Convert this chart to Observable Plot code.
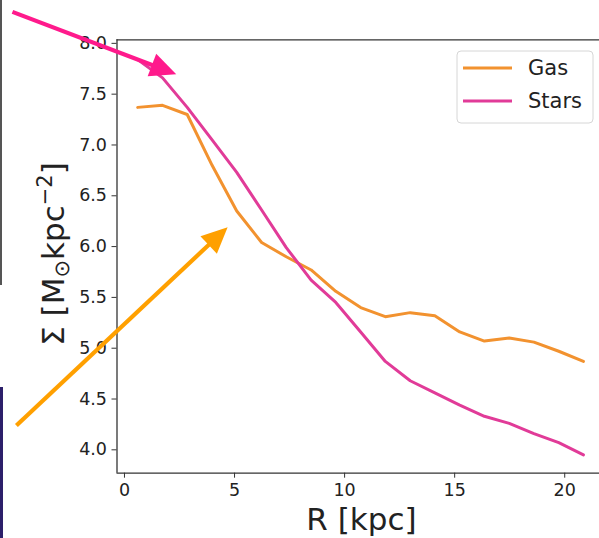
<!DOCTYPE html>
<html>
<head>
<meta charset="utf-8">
<script src="https://cdn.jsdelivr.net/npm/d3@7"></script>
<script src="https://cdn.jsdelivr.net/npm/@observablehq/plot@0.6"></script>
<style>
  html, body { margin: 0; padding: 0; background: #fff; overflow: hidden; }
  #wrap { position: relative; width: 599px; height: 538px; }
  #wrap svg { position: absolute; left: 0; top: 0; }
  .edge-line { position: absolute; left: 0; top: 0; width: 1.5px; height: 285px; background: #555; }
  .edge-strip { position: absolute; left: 0; top: 387px; width: 3px; height: 151px; background: #2c1f6a; }
</style>
</head>
<body>
<div id="wrap"><div class="edge-line"></div><div class="edge-strip"></div></div>
<script>
// Radial surface-density profiles (log10 of Σ in M_sun kpc^-2)
const radius = [0.6, 1.73, 2.85, 3.98, 5.1, 6.23, 7.35, 8.48, 9.6, 10.73, 11.85, 12.98, 14.1, 15.23, 16.35, 17.48, 18.6, 19.73, 20.85];
const gas    = [7.37, 7.39, 7.30, 6.80, 6.35, 6.04, 5.90, 5.77, 5.56, 5.40, 5.31, 5.35, 5.32, 5.16, 5.07, 5.10, 5.06, 4.97, 4.87];
const stars  = [7.84, 7.66, 7.37, 7.05, 6.73, 6.36, 5.99, 5.67, 5.45, 5.16, 4.87, 4.68, 4.56, 4.44, 4.33, 4.26, 4.16, 4.07, 3.95];

const seriesNames  = ["Gas", "Stars"];
const seriesColors = ["#f2922f", "#e13b98"];

const xTicks = [0, 5, 10, 15, 20];
const yTicks = [4.0, 4.5, 5.0, 5.5, 6.0, 6.5, 7.0, 7.5, 8.0];
const xDomain = [-0.34, 21.58];
const yDomain = [3.77, 8.035];

// Annotation arrows, in data units (start -> head)
const arrowStart = [[-5.09, 8.31], [-4.91, 4.24]];
const arrowEnd   = [[1.46, 7.77], [3.99, 6.05]];
const arrowColors = ["#ff1a8c", "#ffa000"];

const rows = seriesNames.flatMap((name, s) =>
  radius.map((r, i) => ({series: name, r, v: (s === 0 ? gas : stars)[i]}))
);
const arrows = arrowStart.map((a, i) => ({x1: a[0], y1: a[1], x2: arrowEnd[i][0], y2: arrowEnd[i][1], color: arrowColors[i]}));

const spine = "#333";
const chart = Plot.plot({
  width: 599,
  height: 538,
  marginLeft: 116.5,
  marginRight: 0,
  marginTop: 39.3,
  marginBottom: 65.3,
  style: {fontFamily: "DejaVu Sans", fontSize: "17.5px", color: "#222", background: "transparent"},
  x: {domain: xDomain},
  y: {domain: yDomain},
  color: {domain: seriesNames, range: seriesColors},
  marks: [
    Plot.ruleX([xDomain[0]], {stroke: spine, strokeWidth: 1.3}),
    Plot.ruleY(yDomain, {stroke: spine, strokeWidth: 1.3}),
    Plot.axisX({ticks: xTicks, tickSize: 5, tickPadding: 5, label: null, stroke: spine, fill: "#222"}),
    Plot.axisY({ticks: yTicks, tickFormat: d3.format(".1f"), tickSize: 5, tickPadding: 5, label: null, stroke: spine, fill: "#222"}),
    Plot.line(rows, {x: "r", y: "v", z: "series", stroke: "series", strokeWidth: 3, strokeLinejoin: "round"}),
    Plot.link(arrows, {x1: "x1", y1: "y1", x2: "x2", y2: "y2", stroke: d => d.color, strokeWidth: 4.2, strokeLinecap: "butt"})
  ]
});

document.getElementById("wrap").appendChild(chart);
const svg = d3.select(chart);

// Filled triangular heads for the annotation arrows
const defs = svg.append("defs");
arrowColors.forEach((c, i) => {
  defs.append("marker")
    .attr("id", "head" + i)
    .attr("markerUnits", "userSpaceOnUse")
    .attr("orient", "auto")
    .attr("markerWidth", 34).attr("markerHeight", 30)
    .attr("viewBox", "-2 -14 34 28")
    .attr("refX", 5).attr("refY", 0)
    .append("path")
    .attr("d", "M0,-12 L26,0 L0,12 Z")
    .attr("fill", c);
});
svg.selectAll("g[aria-label='link'] path").each(function(_, i) {
  d3.select(this).attr("marker-end", `url(#head${i})`);
});

// Axis titles
svg.append("text")
  .attr("x", 361.5).attr("y", 530)
  .attr("text-anchor", "middle")
  .attr("font-family", "DejaVu Sans").attr("font-size", 31).attr("fill", "#222")
  .text("R [kpc]");

const yl = svg.append("text")
  .attr("transform", "translate(63.5,254) rotate(-90)")
  .attr("text-anchor", "middle")
  .attr("font-family", "DejaVu Sans").attr("font-size", 31).attr("fill", "#222");
yl.append("tspan").text("Σ [M");
yl.append("tspan").attr("font-size", 21).attr("dy", 5).text("⊙");
yl.append("tspan").attr("dy", -5).text("kpc");
yl.append("tspan").attr("font-size", 21).attr("dy", -12).text("−2");
yl.append("tspan").attr("dy", 12).text("]");

// Legend
const lg = svg.append("g");
lg.append("rect")
  .attr("x", 457).attr("y", 51).attr("width", 136).attr("height", 72)
  .attr("rx", 4).attr("fill", "white").attr("fill-opacity", 0.85)
  .attr("stroke", "#d6d6d6").attr("stroke-width", 1);
seriesNames.forEach((name, i) => {
  const y = 68 + i * 33;
  lg.append("line")
    .attr("x1", 463).attr("x2", 512).attr("y1", y).attr("y2", y)
    .attr("stroke", seriesColors[i]).attr("stroke-width", 3);
  lg.append("text")
    .attr("x", 528).attr("y", y).attr("dy", "0.35em")
    .attr("text-anchor", "start")
    .attr("font-family", "DejaVu Sans").attr("font-size", 21).attr("fill", "#222")
    .text(name);
});
</script>
</body>
</html>
